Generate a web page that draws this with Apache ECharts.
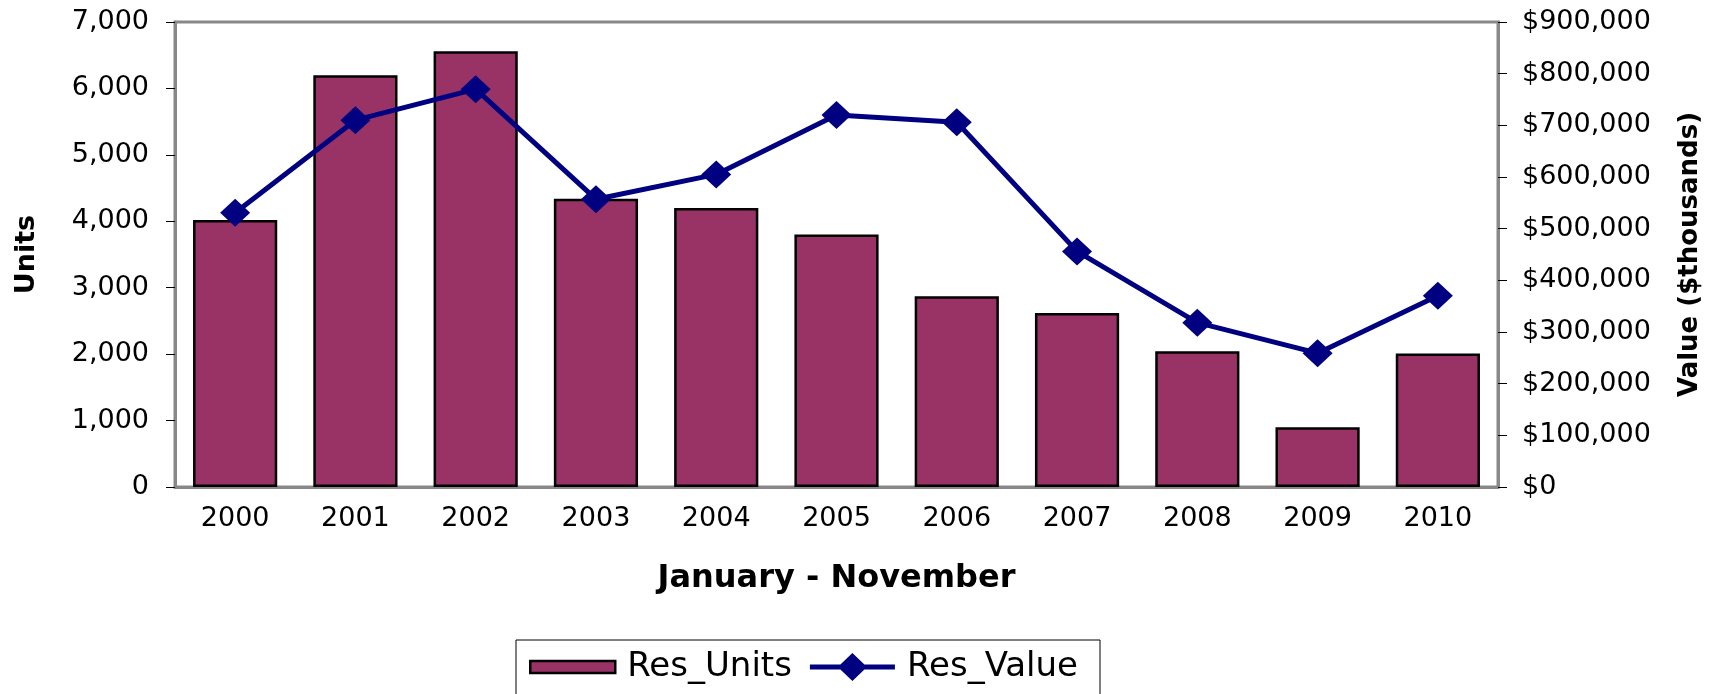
<!DOCTYPE html>
<html>
<head>
<meta charset="utf-8">
<script src="https://cdn.jsdelivr.net/npm/echarts@6/dist/echarts.min.js"></script>
<style>
  html, body { margin: 0; padding: 0; background: #fff; }
  #chart { width: 1721px; height: 694px; }
</style>
</head>
<body>
<div id="chart"></div>
<script>
var years = ['2000', '2001', '2002', '2003', '2004', '2005', '2006', '2007', '2008', '2009', '2010'];
var resUnits = [4020, 6200, 6560, 4340, 4200, 3800, 2870, 2620, 2045, 900, 2010];
var resValue = [531000, 710000, 770000, 557000, 605000, 720000, 706000, 456000, 318000, 259000, 370000];

var font = 'DejaVu Sans';
var barColor = '#993366';
var lineColor = '#000080';

// legend icons: thin bar box, line with diamond
var barIcon = 'path://M0,0M85,30M0,9H85V21H0Z';
var lineIcon = 'path://M0,0M85,30M0,12.5H30.5L42.5,1L54.5,12.5H85V17.5H54.5L42.5,29L30.5,17.5H0Z';

function thousands(v) {
    return String(v).replace(/\B(?=(\d{3})+(?!\d))/g, ',');
}

var myChart = echarts.init(document.getElementById('chart'));

var option = {
    backgroundColor: '#fff',
    animation: false,
    textStyle: { fontFamily: font, color: '#000' },
    grid: {
        left: 175,
        right: 223,
        top: 22,
        bottom: 207,
        show: true,
        borderColor: '#888',
        borderWidth: 3
    },
    legend: {
        left: 516,
        top: 640,
        padding: [10, 22, 12, 13],
        itemGap: 18,
        itemWidth: 85,
        itemHeight: 30,
        borderColor: '#000',
        borderWidth: 1,
        textStyle: { fontFamily: font, fontSize: 34, color: '#000', padding: [0, 0, 0, 7] },
        data: [
            { name: 'Res_Units', icon: barIcon, itemStyle: { color: barColor, borderColor: '#000', borderWidth: 2.5 } },
            { name: 'Res_Value', icon: lineIcon, itemStyle: { color: lineColor, borderWidth: 0 } }
        ]
    },
    xAxis: {
        type: 'category',
        data: years,
        name: 'January - November',
        nameLocation: 'middle',
        nameGap: 76,
        nameTextStyle: { fontFamily: font, fontSize: 32, fontWeight: 'bold', color: '#000' },
        axisLine: { lineStyle: { color: '#888', width: 3 } },
        axisTick: { length: 10, lineStyle: { color: '#000', width: 1 } },
        axisLabel: { fontFamily: font, fontSize: 27, color: '#000', margin: 18 }
    },
    yAxis: [
        {
            type: 'value',
            min: 0,
            max: 7000,
            interval: 1000,
            name: 'Units',
            nameLocation: 'middle',
            nameRotate: 90,
            nameGap: 135,
            nameTextStyle: { fontFamily: font, fontSize: 27, fontWeight: 'bold', color: '#000' },
            splitLine: { show: false },
            axisLine: { show: true, lineStyle: { color: '#888', width: 3 } },
            axisTick: { show: true, length: 9, lineStyle: { color: '#000', width: 1 } },
            axisLabel: { fontFamily: font, fontSize: 27, color: '#000', margin: 26, formatter: thousands }
        },
        {
            type: 'value',
            min: 0,
            max: 900000,
            interval: 100000,
            position: 'right',
            name: 'Value ($thousands)',
            nameLocation: 'middle',
            nameRotate: 90,
            nameGap: 179,
            nameTextStyle: { fontFamily: font, fontSize: 26, fontWeight: 'bold', color: '#000' },
            splitLine: { show: false },
            axisLine: { show: true, lineStyle: { color: '#888', width: 3 } },
            axisTick: { show: true, length: 9, lineStyle: { color: '#000', width: 1 } },
            axisLabel: {
                fontFamily: font, fontSize: 27, color: '#000', margin: 24,
                formatter: function (v) { return '$' + thousands(v); }
            }
        }
    ],
    series: [
        {
            name: 'Res_Units',
            type: 'bar',
            yAxisIndex: 0,
            barWidth: '70%',
            data: resUnits,
            itemStyle: { color: barColor, borderColor: '#000', borderWidth: 2.5 }
        },
        {
            name: 'Res_Value',
            type: 'line',
            yAxisIndex: 1,
            data: resValue,
            symbol: 'diamond',
            symbolSize: [30, 28],
            lineStyle: { color: lineColor, width: 5 },
            itemStyle: { color: lineColor }
        }
    ]
};

myChart.setOption(option);
</script>
</body>
</html>
